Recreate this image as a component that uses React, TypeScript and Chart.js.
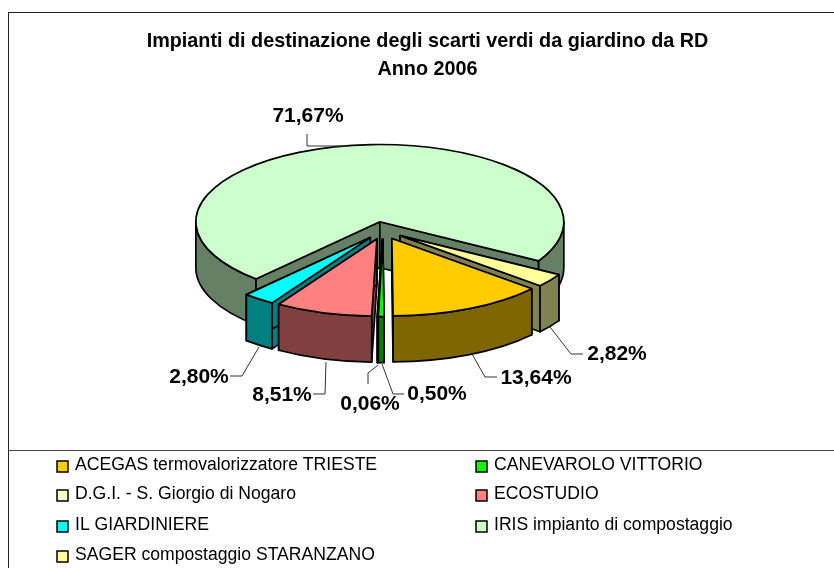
import React, { useEffect, useRef } from "react";
import { Chart, registerables } from "chart.js";

Chart.register(...registerables);

const categories = [
  "ACEGAS termovalorizzatore TRIESTE",
  "CANEVAROLO VITTORIO",
  "D.G.I. - S. Giorgio di Nogaro",
  "ECOSTUDIO",
  "IL GIARDINIERE",
  "IRIS impianto di compostaggio",
  "SAGER compostaggio STARANZANO",
];
const shares = [13.64, 0.5, 0.06, 8.51, 2.8, 71.67, 2.82];
const valueLabels = ["13,64%", "0,50%", "0,06%", "8,51%", "2,80%", "71,67%", "2,82%"];
const topColors = ["#FFCC00", "#00FF00", "#FFFFCC", "#FF8080", "#00FFFF", "#CCFFCC", "#FFFF99"];
const wallColors = ["#806600", "#008000", "#808066", "#804040", "#008080", "#668066", "#808050"];
const titleLines = ["Impianti di destinazione degli scarti verdi da giardino da RD", "Anno 2006"];

// layout of annotations (not data)
const FLAT = 0.42;
const DEPTH = 46;
const EXPLODE = 21;
const paintOrder = [5, 6, 0, 4, 3, 2, 1];
const labelCentres: number[][] = [
  [536, 378], [437, 394], [370, 404], [282, 395], [199, 377], [308, 116], [617, 354],
];
const leaders: number[][][] = [
  [[472, 354], [485, 377], [497, 377]],
  [[382, 364], [393, 394], [404, 394]],
  [[378, 365], [368, 373], [368, 384]],
  [[326, 362], [325, 394], [313, 394]],
  [[259, 347], [242, 376], [230, 376]],
  [[307, 134], [307, 146], [348, 146]],
  [[550, 327], [571, 354], [583, 354]],
];
const legendRows = [466, 495, 526, 556];
const legendCols = [57, 476];

const TAU = Math.PI * 2;

function drawSlice(ctx: CanvasRenderingContext2D, el: any, top: string, wall: string) {
  const mid = (el.startAngle + el.endAngle) / 2;
  const cx = el.x + EXPLODE * Math.cos(mid);
  const cy = el.y + EXPLODE * FLAT * Math.sin(mid);
  const r = el.outerRadius;
  const ry = r * FLAT;
  const s = ((el.startAngle % TAU) + TAU) % TAU;
  const e = s + (el.endAngle - el.startAngle);
  ctx.lineWidth = 1.7;
  ctx.strokeStyle = "#000";
  ctx.lineJoin = "round";
  ctx.fillStyle = wall;
  for (const a of [s, e]) {
    const px = cx + r * Math.cos(a);
    const py = cy + ry * Math.sin(a);
    ctx.beginPath();
    ctx.moveTo(cx, cy);
    ctx.lineTo(px, py);
    ctx.lineTo(px, py + DEPTH);
    ctx.lineTo(cx, cy + DEPTH);
    ctx.closePath();
    ctx.fill();
    ctx.stroke();
  }
  for (const [lo, hi] of [[0, Math.PI], [TAU, TAU + Math.PI]]) {
    const a = Math.max(s, lo);
    const b = Math.min(e, hi);
    if (b <= a) continue;
    ctx.beginPath();
    ctx.ellipse(cx, cy, r, ry, 0, a, b);
    ctx.ellipse(cx, cy + DEPTH, r, ry, 0, b, a, true);
    ctx.closePath();
    ctx.fill();
    ctx.stroke();
  }
  ctx.fillStyle = top;
  ctx.beginPath();
  ctx.moveTo(cx, cy);
  ctx.ellipse(cx, cy, r, ry, 0, s, e);
  ctx.closePath();
  ctx.fill();
  ctx.stroke();
}

const pie3d = {
  id: "pie3d",
  beforeDraw(chart: any) {
    const { ctx, width, height } = chart;
    ctx.save();
    ctx.fillStyle = "#fff";
    ctx.fillRect(0, 0, width, height);
    ctx.strokeStyle = "#222";
    ctx.lineWidth = 1;
    ctx.strokeRect(8.5, 12.5, width + 20, height + 20);
    ctx.strokeStyle = "#444";
    ctx.beginPath();
    ctx.moveTo(8, 450.5);
    ctx.lineTo(width, 450.5);
    ctx.stroke();
    ctx.restore();
  },
  beforeDatasetsDraw(chart: any) {
    const { ctx } = chart;
    const arcs = chart.getDatasetMeta(0).data;
    ctx.save();
    for (const i of paintOrder) drawSlice(ctx, arcs[i], topColors[i], wallColors[i]);
    ctx.restore();
    return false;
  },
  afterDraw(chart: any) {
    const { ctx } = chart;
    ctx.save();
    ctx.fillStyle = "#000";
    ctx.textBaseline = "middle";
    ctx.textAlign = "center";
    ctx.font = 'bold 19.8px "Liberation Sans"';
    ctx.fillText(titleLines[0], 427.5, 42);
    ctx.fillText(titleLines[1], 427.5, 70);

    ctx.strokeStyle = "#333";
    ctx.lineWidth = 1;
    leaders.forEach((pts) => {
      ctx.beginPath();
      pts.forEach((p, j) => (j ? ctx.lineTo(p[0], p[1]) : ctx.moveTo(p[0], p[1])));
      ctx.stroke();
    });
    ctx.font = 'bold 21px "Liberation Sans"';
    valueLabels.forEach((t, i) => ctx.fillText(t, labelCentres[i][0], labelCentres[i][1]));

    ctx.textAlign = "left";
    ctx.font = '17.6px "Liberation Sans"';
    categories.forEach((name, i) => {
      const col = legendCols[i % 2];
      const y = legendRows[Math.floor(i / 2)];
      ctx.fillStyle = topColors[i];
      ctx.strokeStyle = "#000";
      ctx.lineWidth = 1.5;
      ctx.fillRect(col, y - 5, 11, 11);
      ctx.strokeRect(col, y - 5, 11, 11);
      ctx.fillStyle = "#000";
      ctx.fillText(name, col + 18, y - 1);
    });
    ctx.restore();
  },
};

export default function App() {
  const ref = useRef<HTMLCanvasElement>(null);
  useEffect(() => {
    const chart = new Chart(ref.current!, {
      type: "pie",
      data: {
        labels: categories,
        datasets: [{ data: shares, backgroundColor: topColors, borderWidth: 0 }],
      },
      options: {
        animation: false,
        responsive: false,
        rotation: 130.5,
        layout: { padding: { left: 199, right: 267, top: 46.5, bottom: 153.5 } },
        plugins: { legend: { display: false }, tooltip: { enabled: false }, title: { display: false } },
      },
      plugins: [pie3d],
    } as any);
    return () => chart.destroy();
  }, []);
  return (
    <canvas
      ref={ref}
      width={834}
      height={568}
      style={{ position: "absolute", left: 0, top: 0, width: 834, height: 568, display: "block" }}
    />
  );
}
